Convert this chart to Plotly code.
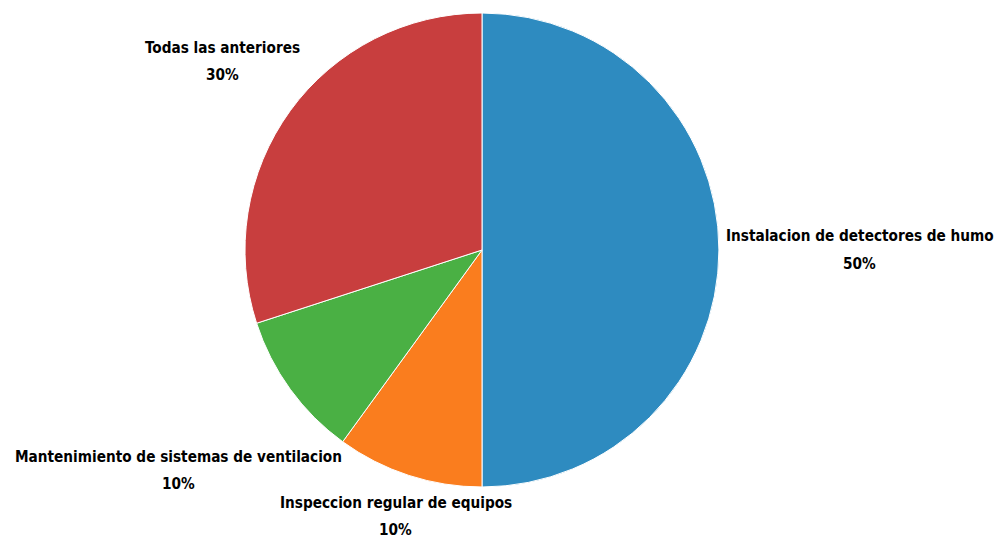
import math
import plotly.graph_objects as go

# ---- data ----
labels = [
    "Instalacion de detectores de humo",
    "Inspeccion regular de equipos",
    "Mantenimiento de sistemas de ventilacion",
    "Todas las anteriores",
]
values = [50, 10, 10, 30]
colors = ["#2E8BC0", "#FA7D1E", "#4AB044", "#C83E3E"]

# ---- layout constants ----
W, H = 996, 540              # figure size
CX, CY, R = 482, 250, 237    # pie centre / radius in figure pixels
FONT_SIZE = 15.2
FONT_FAMILY = "DejaVu Sans Condensed, Liberation Sans Narrow, Arial Narrow, sans-serif"
CHAR_W = 0.53                # approx average char width (em)
LINE_GAP = 27                # distance between the two label lines
GAP = 8

fig = go.Figure(
    go.Pie(
        labels=labels,
        values=values,
        marker=dict(colors=colors, line=dict(color="white", width=1)),
        sort=False,
        direction="clockwise",
        rotation=0,
        textinfo="none",
        hoverinfo="label+percent",
        showlegend=False,
        domain=dict(x=[(CX - R) / W, (CX + R) / W], y=[1 - (CY + R) / H, 1 - (CY - R) / H]),
    )
)

total = sum(values)
cum = 0
annotations = []
for lab, v in zip(labels, values):
    mid = (cum + v / 2) / total * 2 * math.pi
    cum += v
    ux, uy = math.sin(mid), -math.cos(mid)  # screen coordinates (y down)
    pct = f"{round(v / total * 100)}%"
    hw = len(lab) * FONT_SIZE * CHAR_W / 2
    hh = (LINE_GAP + FONT_SIZE) / 2
    lo, hi = 0.0, 3 * R
    for _ in range(60):
        d = (lo + hi) / 2
        ex = max(abs(d * ux) - hw, 0)
        ey = max(abs(d * uy) - hh, 0)
        if math.hypot(ex, ey) >= R + GAP:
            hi = d
        else:
            lo = d
    px = CX + hi * ux
    py = CY + hi * uy
    for txt, dy in ((lab, -LINE_GAP / 2), (pct, LINE_GAP / 2)):
        annotations.append(
            dict(
                x=px / W,
                y=1 - (py + dy) / H,
                xref="paper",
                yref="paper",
                xanchor="center",
                yanchor="middle",
                showarrow=False,
                text=f"<b>{txt}</b>",
                font=dict(size=FONT_SIZE, family=FONT_FAMILY, color="#000000"),
            )
        )

fig.update_layout(
    width=W,
    height=H,
    margin=dict(l=0, r=0, t=0, b=0),
    paper_bgcolor="white",
    plot_bgcolor="white",
    annotations=annotations,
)

fig.write_html(
    "out.html",
    config={"displayModeBar": False},
    post_script="document.body.style.margin='0px';document.body.style.overflow='hidden';",
)
